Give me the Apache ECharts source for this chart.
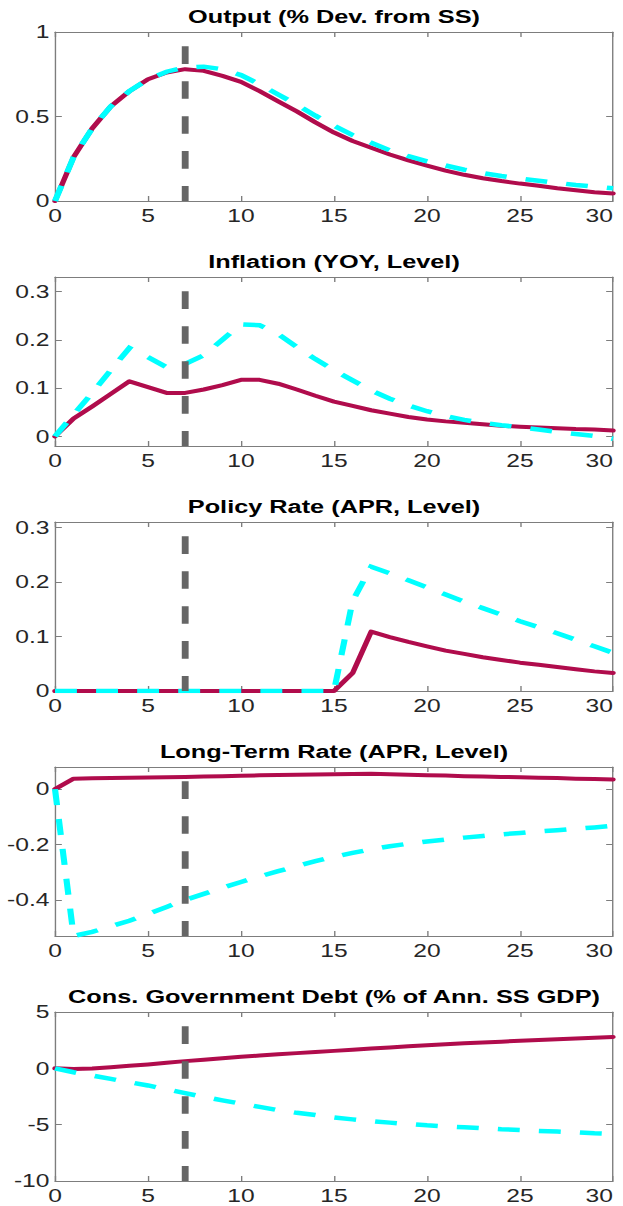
<!DOCTYPE html>
<html>
<head>
<meta charset="utf-8">
<script src="https://cdn.jsdelivr.net/npm/echarts@6/dist/echarts.min.js"></script>
<style>
  html, body { margin: 0; padding: 0; background: #fff; overflow: hidden; }
  #wrap { width: 623px; height: 1206px; overflow: hidden; }
  /* the figure is laid out on a narrower canvas and stretched horizontally */
  #chart { width: 455px; height: 1206px; transform-origin: 0 0; }
</style>
</head>
<body>
<div id="wrap"><div id="chart"></div></div>
<script>
// Quarters after the shock
const quarters = [0,1,2,3,4,5,6,7,8,9,10,11,12,13,14,15,16,17,18,19,20,21,22,23,24,25,26,27,28,29,30];

// Output (% deviation from steady state)
const outputA = [0, 0.26, 0.43, 0.56, 0.65, 0.72, 0.76, 0.78, 0.77, 0.74, 0.705, 0.65, 0.59, 0.53, 0.465, 0.405, 0.355, 0.315, 0.275, 0.24, 0.21, 0.18, 0.155, 0.135, 0.118, 0.103, 0.09, 0.075, 0.063, 0.052, 0.044];
const outputB = [0, 0.26, 0.43, 0.56, 0.65, 0.72, 0.765, 0.79, 0.795, 0.78, 0.745, 0.69, 0.63, 0.57, 0.505, 0.445, 0.39, 0.345, 0.30, 0.265, 0.235, 0.21, 0.185, 0.165, 0.148, 0.133, 0.12, 0.107, 0.095, 0.085, 0.075];

// Inflation (year over year, level)
const inflationA = [0, 0.037, 0.062, 0.088, 0.114, 0.102, 0.09, 0.09, 0.097, 0.106, 0.117, 0.117, 0.109, 0.097, 0.084, 0.072, 0.063, 0.054, 0.047, 0.04, 0.035, 0.031, 0.028, 0.025, 0.022, 0.02, 0.0185, 0.017, 0.015, 0.014, 0.012];
const inflationB = [0, 0.045, 0.09, 0.137, 0.183, 0.164, 0.143, 0.15, 0.168, 0.20, 0.232, 0.23, 0.212, 0.185, 0.16, 0.137, 0.116, 0.095, 0.078, 0.064, 0.052, 0.042, 0.034, 0.028, 0.023, 0.019, 0.014, 0.009, 0.005, 0.001, -0.005];

// Policy rate (APR, level)
const policyA = [0, 0, 0, 0, 0, 0, 0, 0, 0, 0, 0, 0, 0, 0, 0, 0, 0.033, 0.109, 0.099, 0.09, 0.082, 0.074, 0.068, 0.062, 0.057, 0.052, 0.048, 0.044, 0.04, 0.036, 0.033];
const policyB = [0, 0, 0, 0, 0, 0, 0, 0, 0, 0, 0, 0, 0, 0, 0, 0, 0.165, 0.228, 0.216, 0.203, 0.19, 0.177, 0.164, 0.152, 0.14, 0.128, 0.117, 0.106, 0.094, 0.082, 0.07];

// Long-term rate (APR, level)
const longRateA = [0, 0.038, 0.039, 0.04, 0.041, 0.042, 0.043, 0.044, 0.046, 0.047, 0.048, 0.05, 0.051, 0.052, 0.053, 0.054, 0.055, 0.056, 0.054, 0.052, 0.05, 0.049, 0.047, 0.046, 0.044, 0.043, 0.041, 0.04, 0.038, 0.037, 0.035];
const longRateB = [0, -0.53, -0.515, -0.495, -0.475, -0.45, -0.425, -0.40, -0.378, -0.356, -0.335, -0.315, -0.296, -0.278, -0.26, -0.244, -0.23, -0.217, -0.206, -0.197, -0.189, -0.182, -0.175, -0.169, -0.163, -0.158, -0.152, -0.148, -0.143, -0.138, -0.132];

// Consolidated government debt (% of annual SS GDP)
const debtA = [0, -0.05, -0.02, 0.1, 0.22, 0.35, 0.5, 0.64, 0.77, 0.9, 1.02, 1.13, 1.24, 1.35, 1.45, 1.55, 1.65, 1.75, 1.85, 1.95, 2.05, 2.14, 2.22, 2.3, 2.37, 2.44, 2.51, 2.58, 2.64, 2.71, 2.78];
const debtB = [0, -0.35, -0.64, -0.94, -1.23, -1.52, -1.87, -2.2, -2.54, -2.84, -3.13, -3.42, -3.71, -3.95, -4.15, -4.36, -4.53, -4.68, -4.82, -4.94, -5.06, -5.15, -5.23, -5.32, -5.41, -5.47, -5.56, -5.61, -5.67, -5.76, -5.82];

const panelTitles = [
  'Output (% Dev. from SS)',
  'Inflation (YOY, Level)',
  'Policy Rate (APR, Level)',
  'Long-Term Rate (APR, Level)',
  'Cons. Government Debt (% of Ann. SS GDP)'
];
const yLimits = [[0, 1], [-0.02, 0.33], [0, 0.31], [-0.53, 0.08], [-10, 5]];
const yTickValues = [[0, 0.5, 1], [0, 0.1, 0.2, 0.3], [0, 0.1, 0.2, 0.3], [-0.4, -0.2, 0], [-10, -5, 0, 5]];
const xTickValues = [0, 5, 10, 15, 20, 25, 30];
const shockQuarter = 7;

const solidSeries = [outputA, inflationA, policyA, longRateA, debtA];
const dashedSeries = [outputB, inflationB, policyB, longRateB, debtB];

// ---- layout ----
const LOGICAL_W = 455;
const STRETCH = 623 / LOGICAL_W;
document.getElementById('chart').style.transform = 'scaleX(' + STRETCH + ')';

const gridLeft = 55 / STRETCH;
const gridRight = LOGICAL_W - 613 / STRETCH;
const panelTops = [32, 277, 522, 767, 1012];
const panelHeight = 169;
const markTopFrac = 0.915;

const FONT = '"Liberation Sans", Arial, Helvetica, sans-serif';
const TEXT = '#262626';
const BOX = '#7d7d7d';
const SOLID_COLOR = '#B00C4C';
const DASH_COLOR = '#00FFFF';
const MARK_COLOR = '#666666';

const grids = [], xAxes = [], yAxes = [], series = [], graphics = [];

panelTops.forEach((top, i) => {
  grids.push({ left: gridLeft, right: gridRight, top: top, height: panelHeight,
               containLabel: false, outerBoundsMode: 'none' });
  const [ymin, ymax] = yLimits[i];
  const axisLine = { show: true, onZero: false, lineStyle: { color: BOX, width: 1 } };
  // bottom x axis with labels (last label kept inside the right edge)
  xAxes.push({
    type: 'value', gridIndex: i, position: 'bottom', min: 0, max: 30, interval: 5,
    axisLine: axisLine,
    axisTick: { show: true, inside: true, length: 5, lineStyle: { color: BOX } },
    axisLabel: { show: true, margin: 6, fontFamily: FONT, fontSize: 18, color: TEXT,
                 customValues: xTickValues, alignMaxLabel: 'right' },
    splitLine: { show: false }
  });
  // top x axis: box edge with inner ticks
  xAxes.push({
    type: 'value', gridIndex: i, position: 'top', min: 0, max: 30, interval: 5,
    axisLine: axisLine,
    axisTick: { show: true, inside: true, length: 5, lineStyle: { color: BOX } },
    axisLabel: { show: false },
    splitLine: { show: false }
  });
  // left y axis with labels
  yAxes.push({
    type: 'value', gridIndex: i, position: 'left', min: ymin, max: ymax,
    axisLine: axisLine,
    axisTick: { show: true, inside: true, length: 5, lineStyle: { color: BOX },
                customValues: yTickValues[i] },
    axisLabel: { show: true, margin: 4, fontFamily: FONT, fontSize: 18, color: TEXT,
                 customValues: yTickValues[i] },
    splitLine: { show: false }
  });
  // right y axis: box edge with inner ticks
  yAxes.push({
    type: 'value', gridIndex: i, position: 'right', min: ymin, max: ymax,
    axisLine: axisLine,
    axisTick: { show: true, inside: true, length: 5, lineStyle: { color: BOX },
                customValues: yTickValues[i] },
    axisLabel: { show: false },
    splitLine: { show: false }
  });

  const xi = 2 * i, yi = 2 * i;
  series.push({
    type: 'line', xAxisIndex: xi, yAxisIndex: yi, symbol: 'none', z: 2,
    data: quarters.map((q, k) => [q, solidSeries[i][k]]),
    lineStyle: { color: SOLID_COLOR, width: 4, cap: 'round', join: 'round' }
  });
  series.push({
    type: 'line', xAxisIndex: xi, yAxisIndex: yi, symbol: 'none', z: 3,
    data: quarters.map((q, k) => [q, dashedSeries[i][k]]),
    lineStyle: { color: DASH_COLOR, width: 4.5, type: [16, 14], cap: 'butt', join: 'miter' }
  });
  // vertical marker at the shock quarter
  const markTop = ymin + markTopFrac * (ymax - ymin);
  series.push({
    type: 'line', xAxisIndex: xi, yAxisIndex: yi, symbol: 'none', z: 4,
    data: [[shockQuarter, markTop], [shockQuarter, ymin]],
    lineStyle: { color: MARK_COLOR, width: 5, type: [17.6, 17.3], cap: 'butt' }
  });

  graphics.push({
    type: 'text', x: (gridLeft + (LOGICAL_W - gridRight)) / 2, y: top - 15,
    style: { text: panelTitles[i], font: 'bold 18.5px ' + FONT, fill: '#000',
             textAlign: 'center', textVerticalAlign: 'middle' }
  });
});

const chart = echarts.init(document.getElementById('chart'), null, { renderer: 'svg' });
chart.setOption({
  animation: false,
  backgroundColor: '#fff',
  grid: grids,
  xAxis: xAxes,
  yAxis: yAxes,
  series: series,
  graphic: graphics
});
</script>
</body>
</html>
